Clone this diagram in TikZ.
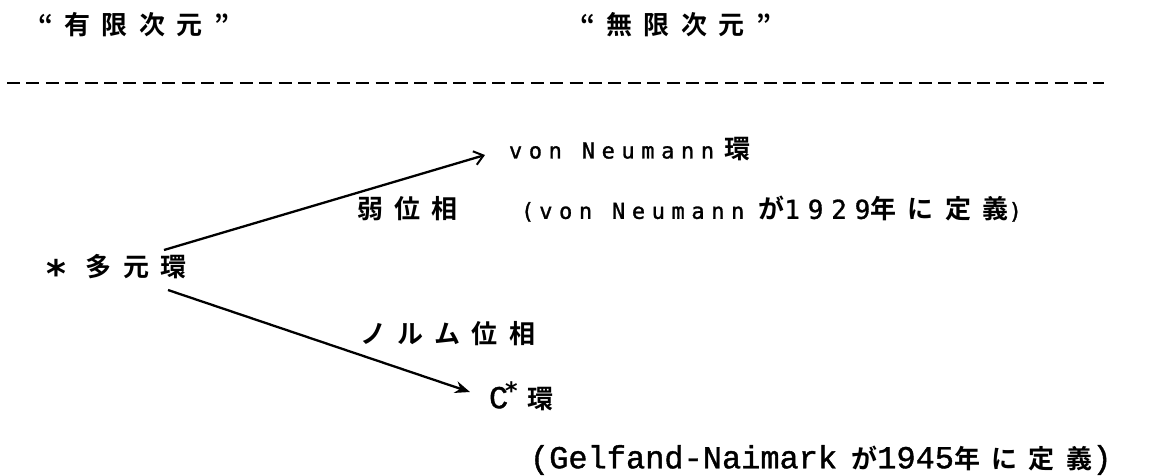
\documentclass[tikz,border=0pt]{standalone}
\usepackage{fontspec}
\usetikzlibrary{arrows.meta}
\newfontfamily\jp[LetterSpace=44,BoldFont={Noto Sans CJK JP Bold}]{Noto Sans CJK JP}
\newfontfamily\lat[LetterSpace=30,FakeBold=1.2]{DejaVu Sans Mono}
\newfontfamily\dig[LetterSpace=30,FakeBold=1.2]{DejaVu Sans Mono}
\newfontfamily\cour[FakeBold=1.2]{Liberation Mono}
\newfontfamily\astfont{DejaVu Sans}
\newcommand{\J}[1]{{\jp\bfseries\fontsize{26}{30}\selectfont #1}}
\newcommand{\Lt}[1]{{\lat\fontsize{22}{26}\selectfont #1}}
\newcommand{\Dg}[1]{{\dig\fontsize{26}{30}\selectfont #1}}
\newcommand{\Co}[1]{{\cour\fontsize{32}{36}\selectfont #1}}
\newcommand{\Ast}[1]{{\astfont\bfseries\fontsize{#1}{#1}\selectfont *}}
\tikzset{
  txt/.style={anchor=west, inner sep=0pt, outer sep=0pt},
  sep/.style={line width=2.8pt, dash pattern=on 13pt off 6.4pt},
  link/.style={line width=2.3pt},
  openhead/.style={link, -{Straight Barb[length=9pt,width=14pt,line width=2pt]}},
  fillhead/.style={link, -{Stealth[length=15pt,width=12pt]}}
}
\begin{document}
\begin{tikzpicture}[x=1pt,y=-1pt]
\useasboundingbox (0,0) rectangle (1163,475);
% titles
\node[txt] (fin) at (38,25) {\J{“有限次元”}};
\node[txt] (inf) at (580,25) {\J{“無限次元”}};
% dashed separator
\coordinate (dl) at (7,83);
\coordinate (dr) at (1104,83);
\draw[sep] (dl) -- (dr);
% nodes
\node[txt] (vn) at (509,149) {\Lt{von Neumann}\hspace{10pt}\J{環}};
\node[txt] (weak) at (357,209) {\J{弱位相}};
\node[txt] (vnnote) at (521,209) {\Lt{(}\hspace{5pt}\Lt{von Neumann}\hspace{14pt}\J{が}\Dg{1929}\J{年に定義}\Lt{)}};
\node[txt] (multi) at (46,271) {\raisebox{-11pt}{\Ast{38}}\hspace{20pt}\J{多元環}};
\node[txt] (norm) at (360,334) {\J{ノルム位相}};
\node[txt] (cstar) at (489,396) {\Co{C}\hspace{-3pt}\raisebox{9pt}{\Ast{24}}\hspace{10pt}\J{環}};
\node[txt] (gn) at (530,460) {\Co{(Gelfand-Naimark}\hspace{14pt}\J{が}\Co{1945}\J{年に定義}\Co{)}};
% connectors
\coordinate (u0) at (164,250);
\coordinate (u1) at (485,155);
\coordinate (l0) at (168,290);
\coordinate (l1) at (470,392);
\draw[openhead] (u0) -- (u1);
\draw[fillhead] (l0) -- (l1);
\end{tikzpicture}
\end{document}
